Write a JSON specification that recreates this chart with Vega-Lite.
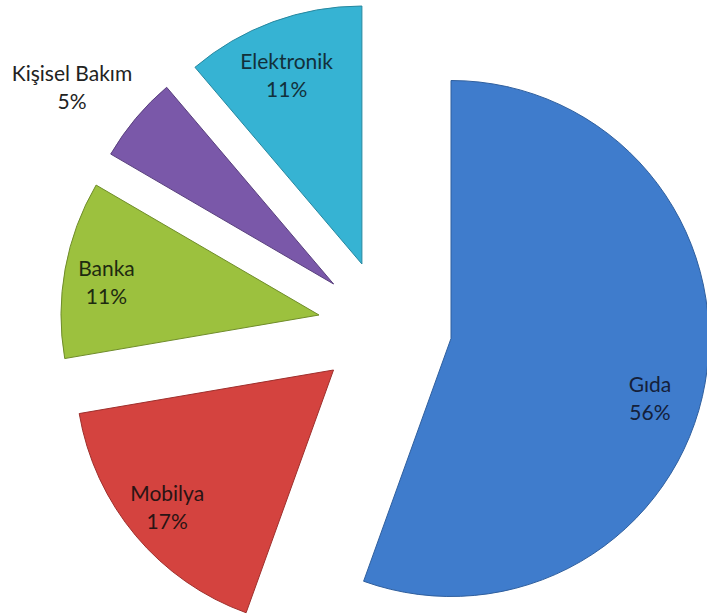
{
  "$schema": "https://vega.github.io/schema/vega-lite/v6.json",
  "width": 642,
  "height": 578,
  "autosize": "none",
  "padding": {"left": 64, "top": 38, "right": 1, "bottom": 0},
  "background": "white",
  "config": {"view": {"stroke": null}},
  "data": {
    "values": [
      {"sira": 1, "kategori": "Gıda", "pay": 55.5},
      {"sira": 2, "kategori": "Mobilya", "pay": 16.8},
      {"sira": 3, "kategori": "Banka", "pay": 11.1},
      {"sira": 4, "kategori": "Kişisel Bakım", "pay": 5.4},
      {"sira": 5, "kategori": "Elektronik", "pay": 11.2}
    ]
  },
  "transform": [
    {"calculate": "datum.kategori + '\\n' + format(datum.pay, '.0f') + '%'", "as": "etiket"}
  ],
  "encoding": {
    "theta": {"field": "pay", "type": "quantitative", "stack": true},
    "order": {"field": "sira", "type": "quantitative"},
    "fill": {
      "field": "kategori", "type": "nominal", "legend": null,
      "scale": {
        "domain": ["Gıda", "Mobilya", "Banka", "Kişisel Bakım", "Elektronik"],
        "range": ["#3f7ccc", "#d4433f", "#9cc13e", "#7a58a9", "#36b3d3"]
      }
    },
    "stroke": {
      "field": "kategori", "type": "nominal", "legend": null,
      "scale": {
        "domain": ["Gıda", "Mobilya", "Banka", "Kişisel Bakım", "Elektronik"],
        "range": ["#2f5f9e", "#9e2f2c", "#6f8c2a", "#59407d", "#26879f"]
      }
    }
  },
  "layer": [
    {
      "encoding": {"opacity": {"condition": {"test": "datum.kategori === 'Gıda'", "value": 1}, "value": 0}},
      "layer": [
        {"mark": {"type": "arc", "outerRadius": 258, "xOffset": 66, "yOffset": 11.5, "strokeWidth": 1}},
        {"mark": {"type": "text", "radius": 208, "xOffset": 66, "yOffset": 11.5, "dx": -6, "dy": 12, "lineBreak": "\n", "lineHeight": 28, "font": "Lato", "fontSize": 21, "align": "center", "baseline": "middle"},
         "encoding": {"text": {"field": "etiket"}, "stroke": {"value": null}, "fill": {"value": "#14203a"}}}
      ]
    },
    {
      "encoding": {"opacity": {"condition": {"test": "datum.kategori === 'Mobilya'", "value": 1}, "value": 0}},
      "layer": [
        {"mark": {"type": "arc", "outerRadius": 258, "xOffset": -51.5, "yOffset": 43, "strokeWidth": 1}},
        {"mark": {"type": "text", "radius": 217, "xOffset": -51.5, "yOffset": 43, "dy": -14, "lineBreak": "\n", "lineHeight": 28, "font": "Lato", "fontSize": 21, "align": "center", "baseline": "middle"},
         "encoding": {"text": {"field": "etiket"}, "stroke": {"value": null}, "fill": {"value": "#2a1414"}}}
      ]
    },
    {
      "encoding": {"opacity": {"condition": {"test": "datum.kategori === 'Banka'", "value": 1}, "value": 0}},
      "layer": [
        {"mark": {"type": "arc", "outerRadius": 258, "xOffset": -66, "yOffset": -12, "strokeWidth": 1}},
        {"mark": {"type": "text", "radius": 216, "xOffset": -66, "yOffset": -12, "dy": -7, "lineBreak": "\n", "lineHeight": 28, "font": "Lato", "fontSize": 21, "align": "center", "baseline": "middle"},
         "encoding": {"text": {"field": "etiket"}, "stroke": {"value": null}, "fill": {"value": "#1e2a10"}}}
      ]
    },
    {
      "encoding": {"opacity": {"condition": {"test": "datum.kategori === 'Kişisel Bakım'", "value": 1}, "value": 0}},
      "layer": [
        {"mark": {"type": "arc", "outerRadius": 258, "xOffset": -51.4, "yOffset": -43, "strokeWidth": 1}},
        {"mark": {"type": "text", "radius": 327, "xOffset": -51.4, "yOffset": -43, "dx": -11, "dy": 1, "lineBreak": "\n", "lineHeight": 28, "font": "Lato", "fontSize": 21, "align": "center", "baseline": "middle"},
         "encoding": {"text": {"field": "etiket"}, "stroke": {"value": null}, "fill": {"value": "#222222"}}}
      ]
    },
    {
      "encoding": {"opacity": {"condition": {"test": "datum.kategori === 'Elektronik'", "value": 1}, "value": 0}},
      "layer": [
        {"mark": {"type": "arc", "outerRadius": 258, "xOffset": -23.1, "yOffset": -63, "strokeWidth": 1}},
        {"mark": {"type": "text", "radius": 201, "xOffset": -23.1, "yOffset": -63, "dx": -6, "dy": -12, "lineBreak": "\n", "lineHeight": 28, "font": "Lato", "fontSize": 21, "align": "center", "baseline": "middle"},
         "encoding": {"text": {"field": "etiket"}, "stroke": {"value": null}, "fill": {"value": "#12303a"}}}
      ]
    }
  ]
}
